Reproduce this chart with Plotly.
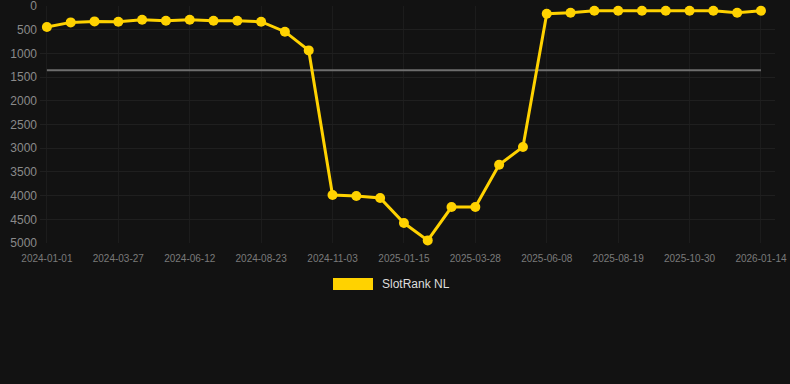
import plotly.graph_objects as go

dates = ["2024-01-01", "2024-01-30", "2024-02-28", "2024-03-27", "2024-04-22", "2024-05-18",
         "2024-06-12", "2024-07-06", "2024-07-30", "2024-08-23", "2024-09-16", "2024-10-10",
         "2024-11-03", "2024-11-27", "2024-12-21", "2025-01-15", "2025-02-08", "2025-03-04",
         "2025-03-28", "2025-04-21", "2025-05-15", "2025-06-08", "2025-07-02", "2025-07-26",
         "2025-08-19", "2025-09-12", "2025-10-06", "2025-10-30", "2025-11-24", "2025-12-19",
         "2026-01-14"]
ranks = [443, 346, 325, 331, 289, 310, 289, 310, 310, 331, 542, 937,
         3987, 4008, 4051, 4578, 4945, 4241, 4241, 3348, 2975, 162, 141, 99,
         99, 99, 99, 99, 99, 141, 99]
reference_level = 1358
series_name = "SlotRank NL"
tick_step = 3

idx = list(range(len(dates)))
yellow = "#FFD200"

fig = go.Figure()
fig.add_trace(go.Scatter(
    x=[idx[0], idx[-1]], y=[reference_level, reference_level], mode="lines",
    line=dict(color="#6e6e6e", width=2), hoverinfo="skip", showlegend=False))
fig.add_trace(go.Scatter(
    x=idx, y=ranks, mode="lines+markers", name=series_name,
    line=dict(color=yellow, width=3), marker=dict(color=yellow, size=10),
    customdata=dates, hovertemplate="%{customdata}: %{y}<extra></extra>",
    showlegend=False, cliponaxis=False))

fig.add_shape(type="rect", xref="paper", yref="paper",
              x0=(333 - 40) / 735, x1=(373 - 40) / 735,
              y0=(243 - 290) / 237, y1=(243 - 278) / 237,
              fillcolor=yellow, line=dict(width=0))
fig.add_annotation(xref="paper", yref="paper", x=(380 - 40) / 735, y=(243 - 284) / 237,
                   text=series_name, showarrow=False, xanchor="left", yanchor="middle",
                   font=dict(size=12, color="#dddddd"))

fig.update_layout(
    width=790, height=384,
    margin=dict(l=40, r=15, t=6, b=141),
    paper_bgcolor="#121212", plot_bgcolor="#121212",
    font=dict(family="Liberation Sans, Arial, sans-serif", color="#8a8a8a"),
    showlegend=False,
    xaxis=dict(range=[-0.29, 30.59], tickvals=idx[::tick_step], ticktext=dates[::tick_step],
               showgrid=True, gridcolor="#1c1c1c", gridwidth=1, zeroline=False,
               tickfont=dict(size=10, color="#7a7a7a"), showline=False, ticks="",
               ticklabelstandoff=8, automargin=False, ticklabeloverflow="allow"),
    yaxis=dict(range=[5000, 0], tickvals=list(range(0, 5001, 500)),
               showgrid=True, gridcolor="#1f1f1f", gridwidth=1, zeroline=False,
               tickfont=dict(size=12, color="#8a8a8a"), ticks="",
               ticklabelstandoff=2, automargin=False, ticklabeloverflow="allow"),
)

fig.write_html("out.html")
